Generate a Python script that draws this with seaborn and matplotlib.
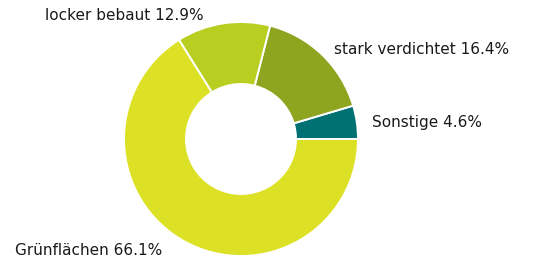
import seaborn as sns
import matplotlib.pyplot as plt

# data
categories = ['Sonstige', 'stark verdichtet', 'locker bebaut', 'Grünflächen']
shares = [4.6, 16.4, 12.9, 66.1]
colors = ['#007173', '#8ea520', '#b8cf22', '#dde125']

sns.set_theme(style='white')
plt.rcParams['font.family'] = ['DejaVu Sans']

fig = plt.figure(figsize=(5.43, 2.64), dpi=100)
ax = fig.add_axes([124 / 543, 8 / 264, 234 / 543, 234 / 264])

labels = [f'{c} {v:.1f}%' for c, v in zip(categories, shares)]
wedges, texts = ax.pie(shares, labels=labels, colors=sns.color_palette(colors),
                       startangle=0, counterclock=True, labeldistance=1.13,
                       wedgeprops=dict(width=0.53, edgecolor='white', linewidth=1.4),
                       textprops=dict(fontsize=11, color='#1a1a1a'))

# small label nudges (in radius units) to match the original placement
nudge = {
    'Sonstige': (0.0, -0.025),
    'stark verdichtet': (0.015, -0.05),
    'locker bebaut': (-0.15, -0.06),
    'Grünflächen': (-0.125, 0.035),
}
for t, c in zip(texts, categories):
    x, y = t.get_position()
    dx, dy = nudge[c]
    t.set_position((x + dx, y + dy))

ax.set_xlim(-1, 1)
ax.set_ylim(-1, 1)
ax.set_aspect('equal')
ax.axis('off')

fig.savefig('out.png', dpi=100)
